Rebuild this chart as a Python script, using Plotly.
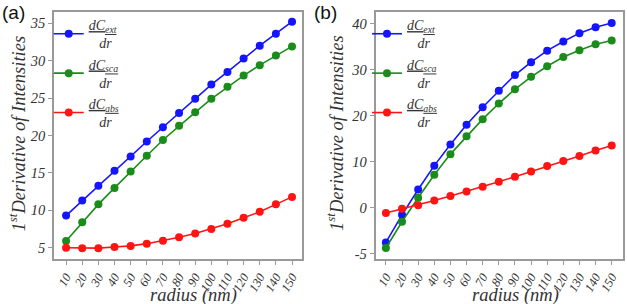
import plotly.graph_objects as go

radius = [10, 20, 30, 40, 50, 60, 70, 80, 90, 100, 110, 120, 130, 140, 150]
a_ext = [9.3, 11.3, 13.3, 15.3, 17.2, 19.2, 21.1, 23.0, 24.9, 26.8, 28.5, 30.3, 32.0, 33.6, 35.2]
a_sca = [5.9, 8.4, 10.8, 13.0, 15.2, 17.3, 19.4, 21.3, 23.1, 24.9, 26.5, 28.0, 29.4, 30.7, 31.9]
a_abs = [5.0, 4.95, 4.95, 5.1, 5.25, 5.55, 5.95, 6.4, 6.9, 7.5, 8.2, 9.0, 9.8, 10.8, 11.8]
b_ext = [-7.6, -1.6, 3.9, 9.1, 13.7, 18.0, 21.8, 25.4, 28.8, 31.6, 34.1, 36.1, 37.9, 39.2, 40.1]
b_sca = [-8.8, -3.1, 2.1, 7.1, 11.6, 15.5, 19.2, 22.6, 25.7, 28.4, 30.7, 32.7, 34.2, 35.5, 36.3]
b_abs = [-1.2, -0.3, 0.5, 1.5, 2.5, 3.5, 4.5, 5.6, 6.7, 7.8, 9.0, 10.1, 11.2, 12.4, 13.5]

a_yticks = [5, 10, 15, 20, 25, 30, 35]
b_yticks = [-10, 0, 10, 20, 30, 40]
b_yticktext = ["-5", "0", "10", "20", "30", "40"]

names = [
    "<u><i>dC<sub>ext</sub></i></u><br>&nbsp;&nbsp;&nbsp;<i>dr</i>",
    "<u><i>dC<sub>sca</sub></i></u><br>&nbsp;&nbsp;&nbsp;<i>dr</i>",
    "<u><i>dC<sub>abs</sub></i></u><br>&nbsp;&nbsp;&nbsp;<i>dr</i>",
]
colors = ["#1414ff", "#1a8c1a", "#ff1414"]
ytitle = "1<sup>st</sup>Derivative of Intensities"
xtitle = "radius (nm)"

serif = "Liberation Serif, Times New Roman, serif"

fig = go.Figure()
for ys, nm, c in zip([a_ext, a_sca, a_abs], names, colors):
    fig.add_trace(go.Scatter(x=radius, y=ys, name=nm, mode="lines+markers",
                             line=dict(color=c, width=1.6), marker=dict(color=c, size=8),
                             xaxis="x", yaxis="y", legend="legend"))
for ys, nm, c in zip([b_ext, b_sca, b_abs], names, colors):
    fig.add_trace(go.Scatter(x=radius, y=ys, name=nm, mode="lines+markers",
                             line=dict(color=c, width=1.6), marker=dict(color=c, size=8),
                             xaxis="x2", yaxis="y2", legend="legend2"))

ytickfont = dict(family=serif, size=14.5, style="italic", color="#333")
xtickfont = dict(family=serif, size=12.5, style="italic", color="#333")
titlefont = dict(family=serif, size=18.5, style="italic", color="#333")
common = dict(showline=True, linecolor="#999", linewidth=1.6, mirror=True,
              ticks="outside", ticklen=4, tickcolor="#999", showgrid=False,
              zeroline=False, automargin=False)

def ann(text, xpx, ypx, angle=0, font=titlefont):
    return dict(text=text, x=xpx / 627, y=(259 - ypx) / 247, xref="paper", yref="paper",
                xanchor="center", yanchor="middle", showarrow=False, textangle=angle, font=font)

labfont = dict(family="Liberation Sans, Arial", size=19, color="#111")

fig.update_layout(
    width=627, height=304,
    margin=dict(l=0, r=0, t=12, b=45, autoexpand=False),
    plot_bgcolor="white", paper_bgcolor="white",
    xaxis=dict(domain=[0.0861, 0.4817], range=[2.5, 156.2], tickvals=radius,
               tickangle=-60, tickfont=xtickfont, **common),
    yaxis=dict(domain=[0, 1], range=[3.5, 36.5], tickvals=a_yticks, tickfont=ytickfont, **common),
    xaxis2=dict(domain=[0.599, 0.9936], range=[3.6, 157], tickvals=radius, anchor="y2",
                tickangle=-60, tickfont=xtickfont, **common),
    yaxis2=dict(domain=[0, 1], range=[-11.2, 42.5], tickvals=b_yticks, ticktext=b_yticktext,
                anchor="x2", tickfont=ytickfont, **common),
    legend=dict(x=0.0777, y=1.012, xanchor="left", yanchor="top", bgcolor="rgba(0,0,0,0)",
                font=dict(family=serif, size=14, color="#333"), itemwidth=30, tracegroupgap=0),
    legend2=dict(x=0.5853, y=1.012, xanchor="left", yanchor="top", bgcolor="rgba(0,0,0,0)",
                 font=dict(family=serif, size=14, color="#333"), itemwidth=30, tracegroupgap=0),
    annotations=[
        ann(ytitle, 17.5, 134, -90),
        ann(ytitle, 335, 133, -90),
        ann(xtitle, 193.5, 295),
        ann(xtitle, 515, 295),
        dict(text="(a)", x=0.0, y=1.0, xref="paper", yref="paper", xanchor="left",
             yanchor="middle", showarrow=False, font=labfont),
        dict(text="(b)", x=0.4976, y=1.0, xref="paper", yref="paper", xanchor="left",
             yanchor="middle", showarrow=False, font=labfont),
    ],
)

fig.write_html("out.html")
